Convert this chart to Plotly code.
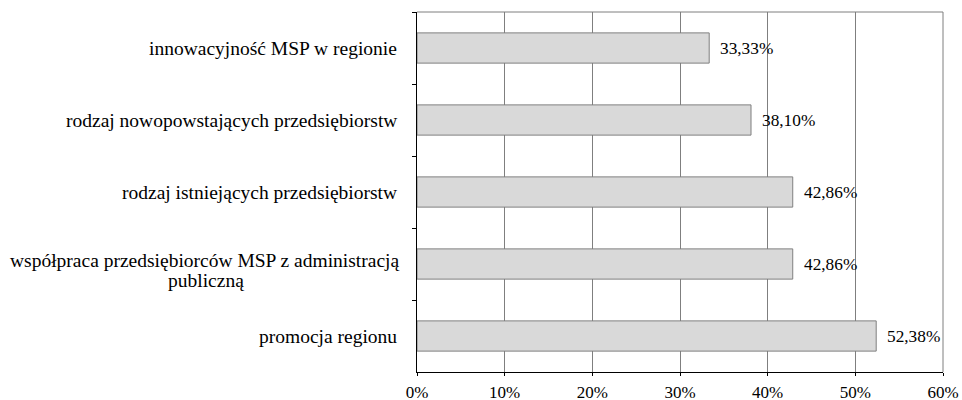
import plotly.graph_objects as go

categories = [
    "innowacyjność MSP w regionie",
    "rodzaj nowopowstających przedsiębiorstw",
    "rodzaj istniejących przedsiębiorstw",
    "współpraca przedsiębiorców MSP z administracją<br>publiczną",
    "promocja regionu",
]
values = [33.33, 38.10, 42.86, 42.86, 52.38]
value_labels = ["33,33%", "38,10%", "42,86%", "42,86%", "52,38%"]
x_tickvals = [0, 10, 20, 30, 40, 50, 60]
x_ticktext = ["0%", "10%", "20%", "30%", "40%", "50%", "60%"]

FONT = "Liberation Serif, Times New Roman, serif"
CAT_SIZE = 19.5

fig = go.Figure()
fig.add_trace(go.Bar(
    x=values, y=categories, orientation="h",
    marker=dict(color="#d9d9d9", line=dict(color="#7f7f7f", width=1)),
    hoverinfo="skip",
))

annotations = []
for c, v, t in zip(categories, values, value_labels):
    annotations.append(dict(x=v, y=c, xref="x", yref="y", text=t, showarrow=False,
                            xanchor="left", xshift=9,
                            font=dict(family=FONT, size=17.3, color="#000")))
    lines = c.split("<br>")
    if len(lines) == 1:
        annotations.append(dict(x=0, y=c, xref="paper", yref="y", text=c, showarrow=False,
                                xanchor="right", xshift=-18,
                                font=dict(family=FONT, size=CAT_SIZE, color="#000")))
    else:
        # first line right-aligned to the axis, second line centred under it (20px line pitch)
        annotations.append(dict(x=0, y=c, xref="paper", yref="y", text=lines[0], showarrow=False,
                                xanchor="right", xshift=-15, yshift=4,
                                font=dict(family=FONT, size=CAT_SIZE, color="#000")))
        annotations.append(dict(x=0, y=c, xref="paper", yref="y", text=lines[1], showarrow=False,
                                xanchor="center", xshift=-211, yshift=-16,
                                font=dict(family=FONT, size=CAT_SIZE, color="#000")))

fig.update_layout(
    width=962, height=400,
    margin=dict(l=417, r=19, t=12, b=28),
    paper_bgcolor="white", plot_bgcolor="white",
    showlegend=False,
    bargap=0.58,
    font=dict(family=FONT, size=17, color="#000"),
    annotations=annotations,
    shapes=[
        dict(type="line", xref="paper", yref="paper", x0=0, x1=1, y0=1, y1=1,
             line=dict(color="#7f7f7f", width=1)),
        dict(type="line", xref="paper", yref="paper", x0=1, x1=1, y0=0, y1=1,
             line=dict(color="#7f7f7f", width=1)),
    ],
)
fig.update_xaxes(
    range=[0, 60], tickvals=x_tickvals, ticktext=x_ticktext,
    showgrid=True, gridcolor="#7f7f7f", gridwidth=1,
    showline=True, linecolor="#000", linewidth=1,
    ticks="outside", ticklen=3, tickcolor="#000",
    ticklabelstandoff=2, zeroline=False, automargin=False,
    tickfont=dict(family=FONT, size=17, color="#000"),
)
fig.update_yaxes(
    type="category", categoryorder="array", categoryarray=categories,
    autorange="reversed", tickson="boundaries", automargin=False,
    showgrid=False, showline=True, linecolor="#000", linewidth=1,
    ticks="outside", ticklen=4, tickcolor="#000",
    showticklabels=False,
)

fig.write_html("out.html", config={"displayModeBar": False},
               post_script="document.body.style.margin='0';")
